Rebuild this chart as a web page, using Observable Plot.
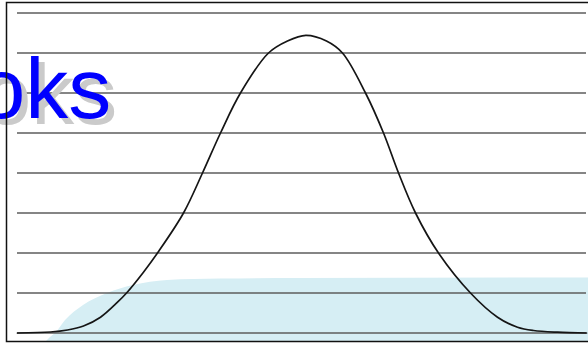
<!DOCTYPE html>
<html>
<head>
<meta charset="utf-8">
<script src="https://cdn.jsdelivr.net/npm/d3@7"></script>
<script src="https://cdn.jsdelivr.net/npm/@observablehq/plot@0.6"></script>
<style>
html, body { margin: 0; padding: 0; overflow: hidden; background: #fff; }
</style>
</head>
<body>
<div id="chart"></div>
<script>
// Bell curve
const curveX = [-4.0, -3.536, -3.297, -3.072, -2.833, -2.594, -2.467, -2.229, -2.032, -1.666, -1.399, -1.146, -0.865, -0.471, -0.204, 0.054, 0.344, 0.569, 0.893, 1.146, 1.357, 1.596, 1.919, 2.369, 2.749, 3.030, 3.255, 3.592, 4.0];
const curveY = [0, 0.025, 0.075, 0.175, 0.395, 0.77, 1.0, 1.52, 2.0, 3.0, 4.0, 5.0, 6.0, 7.0, 7.3, 7.44, 7.3, 7.0, 6.0, 5.0, 4.0, 3.0, 2.0, 1.0, 0.395, 0.145, 0.0625, 0.02, 0];

// Light blue band at the bottom
const bandX = [-3.592, -3.536, -3.466, -3.325, -3.072, -2.735, -2.369, -1.891, -1.146, -0.021, 4.084];
const bandTop = [-0.2125, -0.1125, -0.0125, 0.3125, 0.6875, 0.9875, 1.1875, 1.3125, 1.35, 1.3625, 1.375];
const bandBase = -0.2125;

// Horizontal grid values
const gridValues = [0, 1, 2, 3, 4, 5, 6, 7, 8];

// Label
const labelText = ["oks"];
const labelX = -2.68;
const labelY = 5.3875;

const curve = curveX.map((x, i) => ({x, y: curveY[i]}));
const band = bandX.map((x, i) => ({x, y: bandTop[i]}));
const labels = labelText.map(t => ({t, x: labelX, y: labelY}));

const chart = Plot.plot({
  width: 592,
  height: 343,
  marginLeft: 6,
  marginRight: 2,
  marginTop: 2,
  marginBottom: 2,
  style: {maxWidth: "none", background: "#fff"},
  x: {domain: [-4, 4], insetLeft: 11, insetRight: 4, axis: null},
  y: {domain: [0, 8], insetTop: 10.5, insetBottom: 8.5, axis: null},
  marks: [
    Plot.areaY(band, {x: "x", y1: bandBase, y2: "y", fill: "#d6eef4", curve: "monotone-x"}),
    Plot.ruleY(gridValues, {y: d => d, x1: -4, x2: 4, stroke: "#5c5c5c", strokeWidth: 1.3}),
    Plot.line(curve, {x: "x", y: "y", stroke: "#151515", strokeWidth: 1.7, curve: "catmull-rom"}),
    Plot.text(labels, {x: "x", y: "y", text: "t", dx: 6, dy: 6, fill: "#cacaca", fontSize: 86, fontFamily: "Liberation Sans, Arial, sans-serif", textAnchor: "end", lineAnchor: "bottom"}),
    Plot.text(labels, {x: "x", y: "y", text: "t", fill: "#0000ff", fontSize: 86, fontFamily: "Liberation Sans, Arial, sans-serif", textAnchor: "end", lineAnchor: "bottom"}),
    Plot.frame({stroke: "#111", strokeWidth: 1.5})
  ]
});
document.getElementById("chart").appendChild(chart);
</script>
</body>
</html>
